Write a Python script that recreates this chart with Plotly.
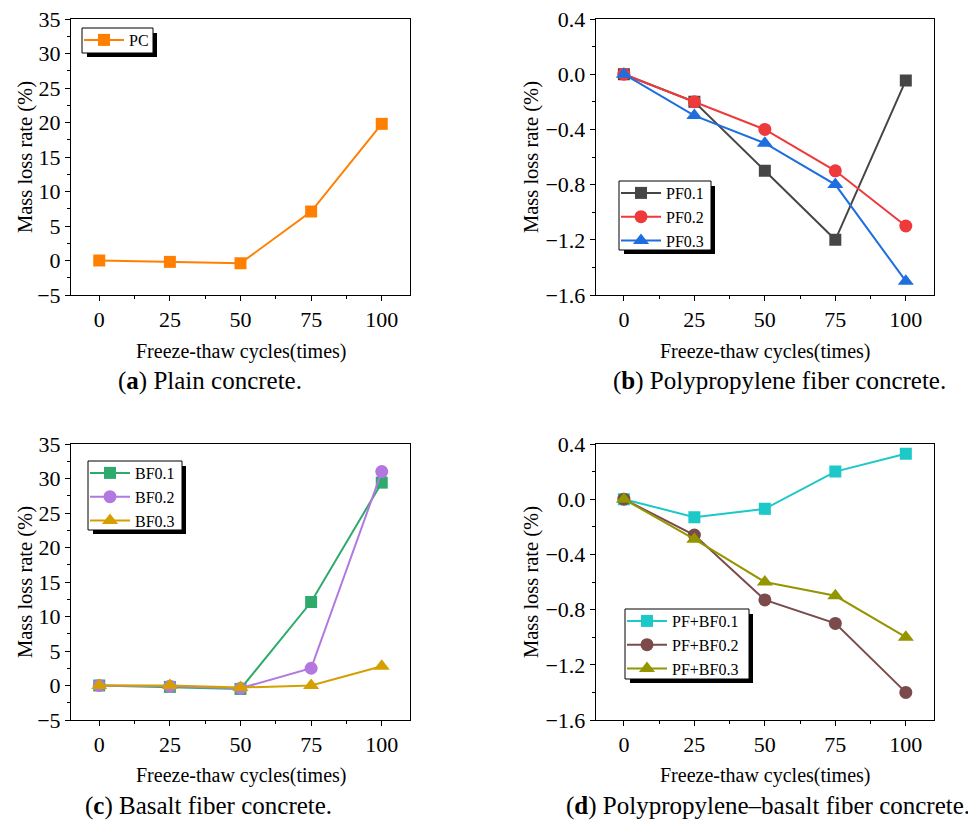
import plotly.graph_objects as go

cycles = [0, 25, 50, 75, 100]
x_ticks = [0, 25, 50, 75, 100]

# (a) plain concrete
pc = [0.0, -0.2, -0.4, 7.1, 19.8]
# (b) polypropylene fiber
pf01 = [0.0, -0.2, -0.7, -1.2, -0.045]
pf02 = [0.0, -0.2, -0.4, -0.7, -1.1]
pf03 = [0.0, -0.3, -0.5, -0.8, -1.5]
# (c) basalt fiber
bf01 = [0.0, -0.2, -0.5, 12.1, 29.4]
bf02 = [0.0, -0.1, -0.4, 2.5, 31.0]
bf03 = [0.0, 0.0, -0.3, 0.0, 2.8]
# (d) PF + BF
pbf01 = [0.0, -0.13, -0.07, 0.2, 0.33]
pbf02 = [0.0, -0.26, -0.73, -0.9, -1.4]
pbf03 = [0.0, -0.29, -0.6, -0.7, -1.0]

OFF = 8  # page body margin
W, H = 976 - OFF, 823 - OFF
FONT = "Liberation Serif"

def px_x(p):
    return (p - OFF) / W

def px_y(p):
    return 1 - (p - OFF) / H

fig = go.Figure()

def add(x, y, name, color, symbol, size, xa, ya, leg):
    fig.add_trace(go.Scatter(
        x=x, y=y, name=name, mode="lines+markers",
        line=dict(color=color, width=2),
        marker=dict(symbol=symbol, size=size, color=color, line=dict(width=0)),
        xaxis=xa, yaxis=ya, legend=leg))

add(cycles, pc, "PC", "#FF8000", "square", 12, "x", "y", "legend")

add(cycles, pf01, "PF0.1", "#464646", "square", 12, "x2", "y2", "legend2")
add(cycles, pf02, "PF0.2", "#EE3A3A", "circle", 13, "x2", "y2", "legend2")
add(cycles, pf03, "PF0.3", "#1E6EE0", "triangle-up", 14, "x2", "y2", "legend2")

add(cycles, bf01, "BF0.1", "#2EAA6C", "square", 12, "x3", "y3", "legend3")
add(cycles, bf02, "BF0.2", "#B278E0", "circle", 13, "x3", "y3", "legend3")
add(cycles, bf03, "BF0.3", "#D4A000", "triangle-up", 14, "x3", "y3", "legend3")

add(cycles, pbf01, "PF+BF0.1", "#1CC8C8", "square", 12, "x4", "y4", "legend4")
add(cycles, pbf02, "PF+BF0.2", "#7B4A4A", "circle", 13, "x4", "y4", "legend4")
add(cycles, pbf03, "PF+BF0.3", "#959500", "triangle-up", 14, "x4", "y4", "legend4")

left_dom = [px_x(71), px_x(410)]
right_dom = [px_x(595.7), px_x(934)]
top_dom = [px_y(295), px_y(19)]
bot_dom = [px_y(720), px_y(444)]

def xaxis(dom, anchor):
    return dict(domain=dom, anchor=anchor, range=[-10, 110], tickvals=x_ticks,
                ticks="outside", ticklen=5, tickwidth=1, tickcolor="black",
                minor=dict(tickvals=[12.5, 37.5, 62.5, 87.5], ticks="outside", ticklen=3, tickcolor="black"),
                showline=True, linecolor="black", linewidth=1, mirror=True,
                showgrid=False, zeroline=False, automargin=False,
                ticklabeloverflow="allow",
                tickfont=dict(family=FONT, size=22, color="black"))

def yaxis(dom, anchor, rng, dtick, minor, fmt):
    return dict(domain=dom, anchor=anchor, range=rng, dtick=dtick, tick0=0,
                ticks="outside", ticklen=5, tickwidth=1, tickcolor="black",
                minor=dict(dtick=minor, ticks="outside", ticklen=3, tickcolor="black"),
                showline=True, linecolor="black", linewidth=1, mirror=True,
                showgrid=False, zeroline=False, tickformat=fmt, automargin=False,
                ticklabeloverflow="allow",
                tickfont=dict(family=FONT, size=22, color="black"))

legend_common = dict(bgcolor="rgba(0,0,0,0)", borderwidth=0,
                     font=dict(family=FONT, size=16, color="black"),
                     xanchor="left", yanchor="top", tracegroupgap=0,
                     itemwidth=40)

# legend boxes from the reference (left, top, right, bottom) in page px
boxes = [(82, 28, 153, 53), (619, 181, 711, 250), (88, 461, 182, 530), (625, 609, 749, 679)]

fig.update_layout(
    width=W, height=H, margin=dict(l=0, r=0, t=0, b=0, pad=0),
    paper_bgcolor="white", plot_bgcolor="white",
    xaxis=xaxis(left_dom, "y"),
    yaxis=yaxis(top_dom, "x", [-5, 35], 5, 2.5, "d"),
    xaxis2=xaxis(right_dom, "y2"),
    yaxis2=yaxis(top_dom, "x2", [-1.6, 0.4], 0.4, 0.2, ".1f"),
    xaxis3=xaxis(left_dom, "y3"),
    yaxis3=yaxis(bot_dom, "x3", [-5, 35], 5, 2.5, "d"),
    xaxis4=xaxis(right_dom, "y4"),
    yaxis4=yaxis(bot_dom, "x4", [-1.6, 0.4], 0.4, 0.2, ".1f"),
    showlegend=True,
)
for i, (x0, y0, x1, y1) in enumerate(boxes):
    key = "legend" if i == 0 else f"legend{i + 1}"
    fig.update_layout({key: dict(x=px_x(x0 - 3), y=px_y(y0 - 5), **legend_common)})

# legend drop shadows and white boxes
for x0, y0, x1, y1 in boxes:
    fig.add_shape(type="rect", xref="paper", yref="paper",
                  x0=px_x(x0 + 5), x1=px_x(x1 + 4), y0=px_y(y1 + 4), y1=px_y(y0 + 5),
                  fillcolor="black", line=dict(width=0), layer="above")
    fig.add_shape(type="rect", xref="paper", yref="paper",
                  x0=px_x(x0), x1=px_x(x1), y0=px_y(y1), y1=px_y(y0),
                  fillcolor="white", line=dict(width=1, color="black"), layer="above")

# axis titles and captions
ann = []
for cx, cy in [(25, 157), (531, 157), (25, 582), (531, 582)]:
    ann.append(dict(x=px_x(cx), y=px_y(cy), xref="paper", yref="paper",
                    text="Mass loss rate (%)", textangle=-90, showarrow=False,
                    font=dict(family=FONT, size=20.5, color="black"),
                    xanchor="center", yanchor="middle"))
for cx, cy in [(241, 351), (765, 351), (241, 775), (765, 775)]:
    ann.append(dict(x=px_x(cx), y=px_y(cy), xref="paper", yref="paper",
                    text="Freeze-thaw cycles(times)", showarrow=False,
                    font=dict(family=FONT, size=20, color="black"),
                    xanchor="center", yanchor="middle"))
captions = [("(<b>a</b>) Plain concrete.", 210, 381),
            ("(<b>b</b>) Polypropylene fiber concrete.", 779, 381),
            ("(<b>c</b>) Basalt fiber concrete.", 208, 806),
            ("(<b>d</b>) Polypropylene–basalt fiber concrete.", 768, 806)]
for t, cx, cy in captions:
    ann.append(dict(x=px_x(cx), y=px_y(cy), xref="paper", yref="paper",
                    text=t, showarrow=False,
                    font=dict(family=FONT, size=25, color="black"),
                    xanchor="center", yanchor="middle"))
fig.update_layout(annotations=ann)

fig.write_html("out.html")
